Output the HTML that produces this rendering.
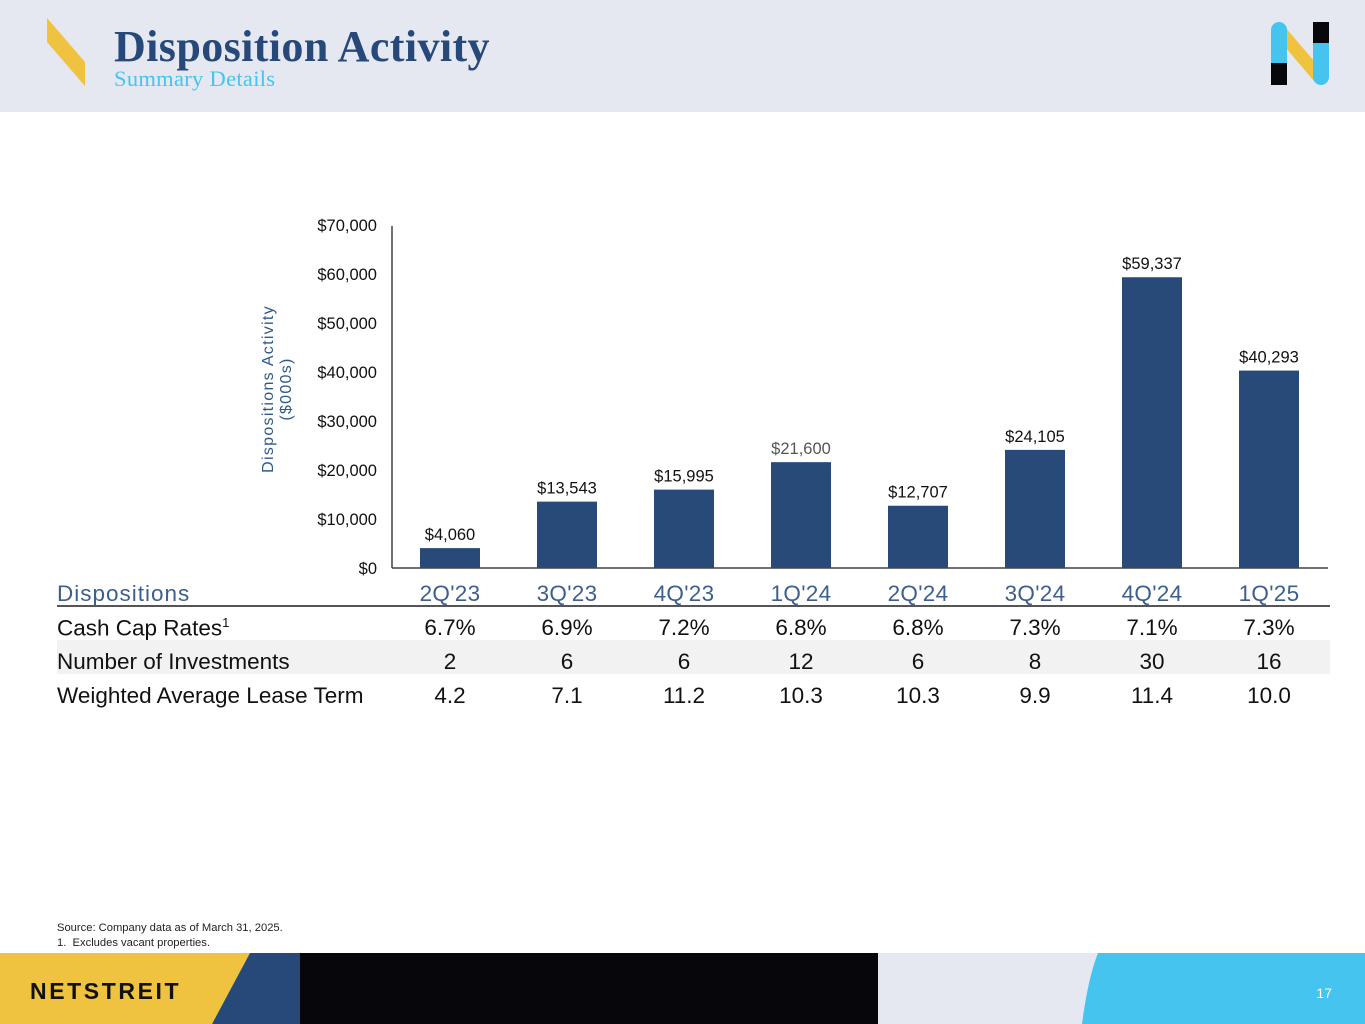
<!DOCTYPE html>
<html><head><meta charset="utf-8"><style>
body{margin:0;width:1365px;height:1024px;position:relative;overflow:hidden;background:#fff;font-family:"Liberation Sans",sans-serif}
.abs{position:absolute}
</style></head><body>
<div class="abs" style="left:0;top:0;width:1365px;height:112px;background:#e5e8f0"></div>
<svg class="abs" style="left:0;top:0" width="1365" height="112">
<polygon points="47,18 85,62 85,86 47,42" fill="#efc240"/>
<g>
<line x1="1279" y1="30" x2="1320" y2="78" stroke="#efc240" stroke-width="13" stroke-linecap="round"/>
<rect x="1271" y="22" width="16" height="44" rx="8" fill="#45c4ef"/><rect x="1271" y="40" width="16" height="24" fill="#45c4ef"/>
<rect x="1271" y="63" width="16" height="22" fill="#08080c"/>
<rect x="1313" y="40" width="16" height="45" rx="8" fill="#45c4ef"/><rect x="1313" y="40" width="16" height="20" fill="#45c4ef"/>
<rect x="1313" y="22" width="16" height="21" fill="#08080c"/>
</g>
</svg>
<div class="abs" style="left:114px;top:21px;font-family:'Liberation Serif',serif;font-weight:bold;font-size:44px;letter-spacing:0.4px;color:#26497a;white-space:nowrap">Disposition Activity</div>
<div class="abs" style="left:114px;top:66px;font-family:'Liberation Serif',serif;font-size:22.5px;letter-spacing:0.3px;color:#45c4ef;white-space:nowrap">Summary Details</div>

<svg id="chart" class="abs" style="left:0;top:0" width="1365" height="720"></svg>

<div class="abs" style="left:57px;top:640px;width:1273px;height:34px;background:#f2f2f2"></div>
<div class="abs" style="left:57px;top:605px;width:1273px;height:1.5px;background:#555"></div>
<div id="table"></div>

<div class="abs" style="left:57px;top:921px;font-size:11.2px;color:#222;line-height:14.5px">Source: Company data as of March 31, 2025.<br>1.&nbsp;&nbsp;Excludes vacant properties.</div>

<svg class="abs" style="left:0;top:953px" width="1365" height="71">
<rect x="0" y="0" width="1365" height="71" fill="#e5e8f0"/>
<polygon points="0,0 250,0 212,71 0,71" fill="#efc240"/>
<polygon points="250,0 300,0 300,71 212,71" fill="#26497a"/>
<rect x="300" y="0" width="578" height="71" fill="#07070b"/>
<path d="M1098,0 L1365,0 L1365,71 L1082,71 Q1088,25 1098,0 Z" fill="#45c4ef"/>
<text x="30" y="46" font-family="Liberation Sans, sans-serif" font-size="23" font-weight="bold" letter-spacing="2.6" fill="#111">NETSTREIT</text>
<text x="1332" y="45" text-anchor="end" font-family="Liberation Sans, sans-serif" font-size="14" fill="#fff">17</text>
</svg>

<script>
const categories=["2Q'23","3Q'23","4Q'23","1Q'24","2Q'24","3Q'24","4Q'24","1Q'25"];
const values=[4060,13543,15995,21600,12707,24105,59337,40293];
const valueLabels=["$4,060","$13,543","$15,995","$21,600","$12,707","$24,105","$59,337","$40,293"];
const yTicks=[0,10000,20000,30000,40000,50000,60000,70000];
const yTickLabels=["$0","$10,000","$20,000","$30,000","$40,000","$50,000","$60,000","$70,000"];
const capRates=["6.7%","6.9%","7.2%","6.8%","6.8%","7.3%","7.1%","7.3%"];
const investments=["2","6","6","12","6","8","30","16"];
const leaseTerms=["4.2","7.1","11.2","10.3","10.3","9.9","11.4","10.0"];

const NS="http://www.w3.org/2000/svg";
const svg=document.getElementById('chart');
const y0=568,yTop=225,yMax=70000;
const y=v=>y0-(v/yMax)*(y0-yTop);
const x=i=>450+i*117;
function mk(t,a,txt){const e=document.createElementNS(NS,t);for(const k in a)e.setAttribute(k,a[k]);if(txt!==undefined)e.textContent=txt;svg.appendChild(e);return e;}
yTicks.forEach((v,i)=>{const t=mk('text',{x:377,y:y(v)+6,'text-anchor':'end','font-size':16.5,fill:'#111'},yTickLabels[i]);

});
values.forEach((v,i)=>{
const r=mk('rect',{x:x(i)-30,y:y(v),width:60,height:y0-y(v),fill:'#274a78'});


const t=mk('text',{x:x(i),y:y(v)-8,'text-anchor':'middle','font-size':16.5,fill:i==3?'#555':'#111'},valueLabels[i]);


});
const ax=mk('line',{x1:392,y1:226,x2:392,y2:568,stroke:'#444','stroke-width':1.5});


const bx=mk('line',{x1:392,y1:568,x2:1328,y2:568,stroke:'#444','stroke-width':1.5});


const yt=mk('text',{transform:'translate(275,389) rotate(-90)','text-anchor':'middle','font-size':16,fill:'#2e5a8a','letter-spacing':'1.3'});


const s1=document.createElementNS(NS,'tspan');s1.setAttribute('x',0);s1.setAttribute('dy',-2);s1.textContent='Dispositions Activity';yt.appendChild(s1);
const s2=document.createElementNS(NS,'tspan');s2.setAttribute('x',0);s2.setAttribute('dy',18);s2.textContent='($000s)';yt.appendChild(s2);

const tbl=document.getElementById('table');
function cell(txt,left,top,opts){const d=document.createElement('div');d.className='abs';d.innerHTML=txt;
d.style.cssText=`left:${left}px;top:${top}px;font-size:22.5px;white-space:nowrap;color:${opts.color||'#111'};${opts.center?'width:120px;margin-left:-60px;text-align:center;':''}letter-spacing:${opts.ls||0}px`;


tbl.appendChild(d);}
cell('Dispositions',57,581,{color:'#3d5f8e',name:'table-header-label',ls:1});
categories.forEach((c,i)=>cell(c,x(i),581,{color:'#3d5f8e',center:1,name:'table-header-quarter',ls:0.3}));
const rows=[['Cash Cap Rates<sup style="font-size:13px">1</sup>',capRates,615],['Number of Investments',investments,649],['Weighted Average Lease Term',leaseTerms,683]];
rows.forEach(r=>{cell(r[0],57,r[2],{name:'table-row-label'});r[1].forEach((v,i)=>cell(v,x(i),r[2],{center:1,name:'table-cell'}));});
</script>
</body></html>
